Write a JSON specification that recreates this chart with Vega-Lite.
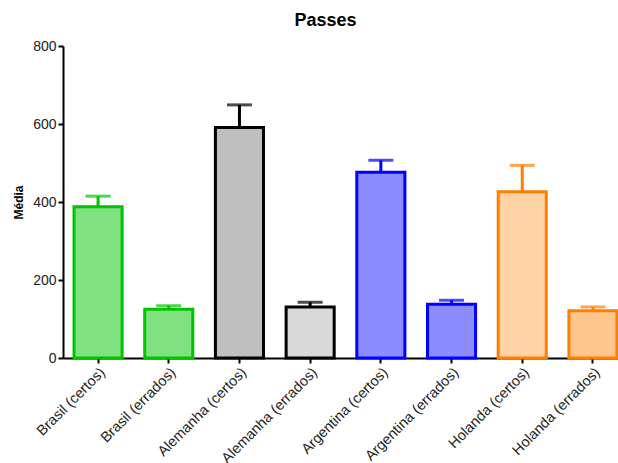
{
  "$schema": "https://vega.github.io/schema/vega-lite/v6.json",
  "autosize": {"type": "none"},
  "width": 565,
  "height": 312,
  "padding": {"left": 63, "top": 46, "right": 0, "bottom": 105},
  "background": "white",
  "config": {
    "view": {"stroke": null},
    "font": "Liberation Sans",
    "axis": {"grid": false, "domainColor": "black", "tickColor": "black", "domainWidth": 2, "tickWidth": 2, "labelColor": "#222", "labelFont": "Liberation Sans"}
  },
  "title": {"text": "Passes", "fontSize": 18, "fontWeight": "bold", "font": "Liberation Sans", "anchor": "middle", "frame": "group", "dx": -20, "offset": 9, "color": "black"},
  "data": {
    "values": [
      {"grupo": "Brasil (certos)", "pais": "Brasil", "tipo": "Brasil (certos)", "media": 388, "erro": 415},
      {"grupo": "Brasil (errados)", "pais": "Brasil", "tipo": "Brasil (errados)", "media": 125, "erro": 134},
      {"grupo": "Alemanha (certos)", "pais": "Alemanha", "tipo": "Alemanha (certos)", "media": 591, "erro": 649},
      {"grupo": "Alemanha (errados)", "pais": "Alemanha", "tipo": "Alemanha (errados)", "media": 131, "erro": 143},
      {"grupo": "Argentina (certos)", "pais": "Argentina", "tipo": "Argentina (certos)", "media": 476, "erro": 507},
      {"grupo": "Argentina (errados)", "pais": "Argentina", "tipo": "Argentina (errados)", "media": 138, "erro": 148},
      {"grupo": "Holanda (certos)", "pais": "Holanda", "tipo": "Holanda (certos)", "media": 426, "erro": 494},
      {"grupo": "Holanda (errados)", "pais": "Holanda", "tipo": "Holanda (errados)", "media": 121, "erro": 131}
    ]
  },
  "encoding": {
    "x": {
      "field": "grupo", "type": "nominal", "sort": null,
      "scale": {"paddingInner": 0.32, "paddingOuter": 0.156},
      "axis": {"title": null, "labelAngle": -45, "labelFontSize": 14.5, "tickSize": 5, "labelPadding": 2, "labelColor": "#222"}
    }
  },
  "layer": [
    {
      "mark": {"type": "rule", "strokeWidth": 3},
      "encoding": {
        "y": {"field": "media", "type": "quantitative"},
        "y2": {"field": "erro"},
        "color": {"field": "pais", "type": "nominal", "scale": {"domain": ["Brasil", "Alemanha", "Argentina", "Holanda"], "range": ["#00c400", "#000000", "#0000ff", "#ff8000"]}, "legend": null}
      }
    },
    {
      "mark": {"type": "tick", "thickness": 3, "size": 25},
      "encoding": {
        "y": {"field": "erro", "type": "quantitative"},
        "color": {"field": "pais", "type": "nominal", "legend": null}
      }
    },
    {
      "mark": {"type": "bar", "strokeWidth": 3},
      "encoding": {
        "y": {
          "field": "media", "type": "quantitative",
          "scale": {"domain": [0, 800], "nice": false},
          "axis": {"title": "Média", "titleFontSize": 12, "titleFontWeight": "bold", "titleColor": "black", "values": [0, 200, 400, 600, 800], "labelFontSize": 14, "tickSize": 5, "titlePadding": 7}
        },
        "fill": {"field": "pais", "type": "nominal", "scale": {"domain": ["Brasil", "Alemanha", "Argentina", "Holanda"], "range": ["#00c400", "#000000", "#0000ff", "#ff8000"]}, "legend": null},
        "stroke": {"field": "pais", "type": "nominal", "scale": {"domain": ["Brasil", "Alemanha", "Argentina", "Holanda"], "range": ["#00c400", "#000000", "#0000ff", "#ff8000"]}, "legend": null},
        "fillOpacity": {
          "field": "tipo", "type": "nominal",
          "scale": {"type": "ordinal", "domain": ["Brasil (certos)", "Brasil (errados)", "Alemanha (certos)", "Alemanha (errados)", "Argentina (certos)", "Argentina (errados)", "Holanda (certos)", "Holanda (errados)"],
                    "range": [0.5, 0.5, 0.25, 0.15, 0.45, 0.45, 0.35, 0.45]},
          "legend": null
        }
      }
    }
  ]
}
